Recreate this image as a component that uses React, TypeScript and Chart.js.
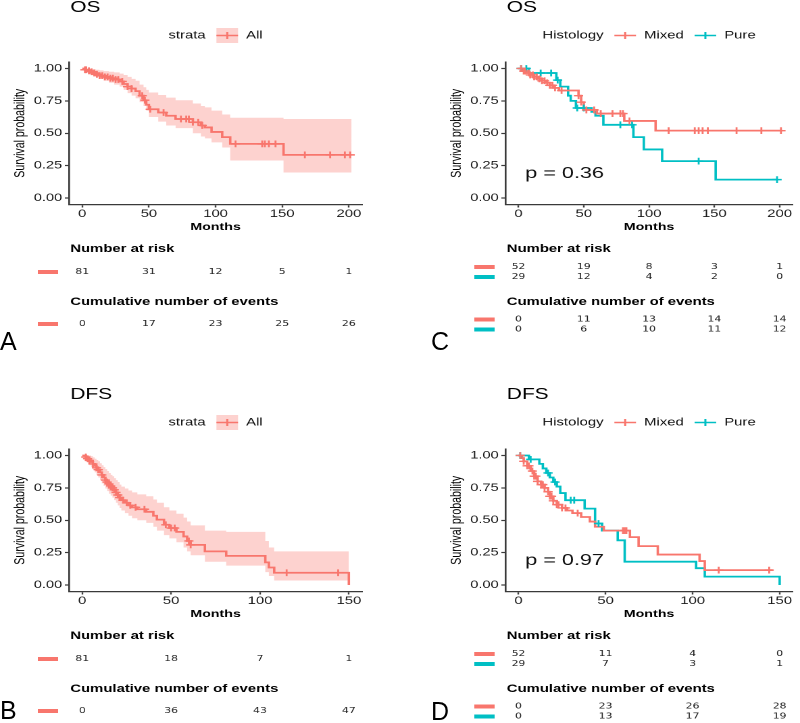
import React, { useEffect, useRef } from "react";
import { Chart, registerables } from "chart.js";

Chart.register(...registerables);

const FONT = "'Liberation Sans', Arial, Helvetica, sans-serif";
const TABLE_FONT = "'DejaVu Sans', Verdana, sans-serif";
const RED = "#F8766D";
const TEAL = "#00BFC4";
const BAND = "rgba(248,118,109,0.33)";
const W = 296;
const SX = 400 / W;
const Y_AXIS_W = 40;
const X_AXIS_H = 20;

// ---------- axis ticks ----------
const OS_X_TICKS = [0, 50, 100, 150, 200];
const DFS_X_TICKS = [0, 50, 100, 150];
const Y_TICKS = [0, 0.25, 0.5, 0.75, 1];

// ---------- A: OS, all patients ----------
const OS_ALL_T = [0, 2, 4, 6, 8, 10, 13, 16, 20, 24, 28, 31, 34, 37, 40, 43, 46, 48, 50, 57, 63, 70, 83, 89, 92, 97, 105, 111, 151];
const OS_ALL_S = [1, 0.99, 0.982, 0.975, 0.965, 0.955, 0.945, 0.935, 0.925, 0.915, 0.9, 0.88, 0.86, 0.845, 0.825, 0.79, 0.755, 0.72, 0.685, 0.66, 0.635, 0.61, 0.585, 0.56, 0.545, 0.51, 0.47, 0.418, 0.333];
const OS_ALL_UP = [1, 1, 1, 0.998, 0.995, 0.99, 0.985, 0.98, 0.975, 0.97, 0.96, 0.95, 0.935, 0.92, 0.905, 0.875, 0.855, 0.835, 0.815, 0.795, 0.775, 0.755, 0.73, 0.71, 0.7, 0.675, 0.645, 0.62, 0.61];
const OS_ALL_LO = [1, 0.975, 0.965, 0.955, 0.945, 0.935, 0.92, 0.905, 0.89, 0.875, 0.86, 0.835, 0.81, 0.79, 0.77, 0.74, 0.71, 0.675, 0.625, 0.59, 0.56, 0.54, 0.5, 0.475, 0.46, 0.43, 0.39, 0.29, 0.197];
const OS_ALL_END = 202;
const OS_ALL_CENS = [2, 3, 5, 7, 9, 11, 13, 15, 17, 19, 21, 23, 25, 27, 30, 34, 37, 45, 47, 51, 61, 74, 78, 80, 83, 87, 90, 115, 135, 137, 140, 145, 167, 186, 197, 201];
const OS_ALL_RISK = [81, 31, 12, 5, 1];
const OS_ALL_EVENTS = [0, 17, 23, 25, 26];

// ---------- C: OS by histology ----------
const OS_MIX_T = [0, 3, 6, 9, 12, 15, 18, 21, 24, 27, 31, 46, 48, 50, 60, 81, 105];
const OS_MIX_S = [1, 0.98, 0.965, 0.95, 0.935, 0.92, 0.905, 0.89, 0.87, 0.85, 0.83, 0.79, 0.74, 0.68, 0.652, 0.595, 0.52];
const OS_MIX_END = 202;
const OS_MIX_CENS = [2, 4, 5, 8, 9, 11, 12, 14, 16, 18, 20, 22, 24, 26, 28, 33, 46, 48, 52, 58, 63, 72, 78, 80, 85, 115, 135, 138, 141, 145, 167, 186, 201];
const OS_MIX_RISK = [52, 19, 8, 3, 1];
const OS_MIX_EVENTS = [0, 11, 13, 14, 14];

const OS_PURE_T = [0, 8, 29, 32, 38, 40, 44, 56, 59, 65, 88, 96, 110, 151];
const OS_PURE_S = [1, 0.965, 0.91, 0.86, 0.79, 0.75, 0.695, 0.665, 0.635, 0.565, 0.47, 0.375, 0.285, 0.142];
const OS_PURE_END = 198;
const OS_PURE_CENS = [2, 6, 17, 25, 30, 45, 50, 78, 87, 138, 198];
const OS_PURE_RISK = [29, 12, 4, 2, 0];
const OS_PURE_EVENTS = [0, 6, 10, 11, 12];

// ---------- B: DFS, all patients ----------
const DFS_ALL_T = [0, 2, 3, 4, 5, 6, 7, 8, 9, 10, 11, 12, 13, 14, 15, 16, 17, 18, 19, 20, 21, 22, 24, 26, 28, 31, 36, 40, 42, 46, 49, 53, 57, 59, 61, 69, 81, 103, 105, 108, 150];
const DFS_ALL_S = [1, 0.988, 0.975, 0.962, 0.95, 0.935, 0.92, 0.905, 0.89, 0.87, 0.85, 0.83, 0.81, 0.795, 0.78, 0.765, 0.75, 0.735, 0.715, 0.695, 0.675, 0.655, 0.635, 0.615, 0.6, 0.585, 0.565, 0.535, 0.505, 0.465, 0.44, 0.41, 0.375, 0.34, 0.31, 0.26, 0.225, 0.175, 0.135, 0.095, 0];
const DFS_ALL_UP = [1, 1, 1, 1, 0.995, 0.985, 0.975, 0.965, 0.955, 0.94, 0.925, 0.91, 0.895, 0.88, 0.865, 0.85, 0.84, 0.825, 0.81, 0.795, 0.775, 0.76, 0.745, 0.73, 0.715, 0.7, 0.685, 0.66, 0.635, 0.6, 0.575, 0.55, 0.52, 0.49, 0.46, 0.42, 0.41, 0.34, 0.29, 0.26, 0.26];
const DFS_ALL_LO = [1, 0.96, 0.945, 0.925, 0.91, 0.89, 0.87, 0.85, 0.83, 0.81, 0.785, 0.765, 0.745, 0.725, 0.705, 0.69, 0.675, 0.655, 0.635, 0.615, 0.595, 0.575, 0.555, 0.535, 0.515, 0.5, 0.48, 0.45, 0.42, 0.385, 0.36, 0.33, 0.29, 0.26, 0.23, 0.18, 0.15, 0.1, 0.07, 0.035, 0.035];
const DFS_ALL_END = 150;
const DFS_ALL_CENS = [2, 3, 4, 6, 8, 9, 11, 13, 14, 15, 16, 17, 18, 19, 20, 21, 23, 25, 27, 30, 35, 47, 50, 52, 60, 61, 115, 144];
const DFS_ALL_RISK = [81, 18, 7, 1];
const DFS_ALL_EVENTS = [0, 36, 43, 47];

// ---------- D: DFS by histology ----------
const DFS_MIX_T = [0, 2, 3, 5, 7, 9, 11, 13, 15, 17, 18, 20, 22, 25, 28, 31, 36, 41, 44, 49, 64, 69, 80, 104, 107];
const DFS_MIX_S = [1, 0.98, 0.955, 0.92, 0.88, 0.84, 0.8, 0.775, 0.75, 0.72, 0.685, 0.65, 0.62, 0.595, 0.575, 0.555, 0.525, 0.49, 0.45, 0.42, 0.37, 0.3, 0.235, 0.185, 0.115];
const DFS_MIX_END = 146;
const DFS_MIX_CENS = [1, 3, 5, 6, 8, 9, 10, 11, 13, 14, 15, 17, 18, 19, 20, 22, 23, 25, 27, 34, 60, 61, 62, 115, 144];
const DFS_MIX_RISK = [52, 11, 4, 0];
const DFS_MIX_EVENTS = [0, 23, 26, 28];

const DFS_PURE_T = [0, 6, 12, 14, 16, 18, 20, 22, 24, 27, 38, 44, 48, 57, 61, 102, 107, 150];
const DFS_PURE_S = [1, 0.97, 0.935, 0.9, 0.865, 0.83, 0.795, 0.76, 0.71, 0.655, 0.59, 0.475, 0.42, 0.345, 0.18, 0.13, 0.065, 0];
const DFS_PURE_END = 150;
const DFS_PURE_CENS = [1, 7, 17, 21, 30, 32, 46];
const DFS_PURE_RISK = [29, 7, 3, 1];
const DFS_PURE_EVENTS = [0, 13, 17, 19];

type Series = {
  label: string;
  color: string;
  t: number[];
  s: number[];
  up?: number[];
  lo?: number[];
  end: number;
  cens: number[];
  risk: number[];
  events: number[];
};

type PanelCfg = {
  title: string;
  legendTitle: string;
  series: Series[];
  xMax: number;
  xTicks: number[];
  band: boolean;
  pval?: string;
  left: number;
  right: number;
  height: number;
};

const PANEL_A: PanelCfg = {
  title: "OS",
  legendTitle: "strata",
  series: [
    { label: "All", color: RED, t: OS_ALL_T, s: OS_ALL_S, up: OS_ALL_UP, lo: OS_ALL_LO, end: OS_ALL_END, cens: OS_ALL_CENS, risk: OS_ALL_RISK, events: OS_ALL_EVENTS },
  ],
  xMax: 200,
  xTicks: OS_X_TICKS,
  band: true,
  left: 51,
  right: 268,
  height: 387,
};

const PANEL_C: PanelCfg = {
  title: "OS",
  legendTitle: "Histology",
  series: [
    { label: "Mixed", color: RED, t: OS_MIX_T, s: OS_MIX_S, end: OS_MIX_END, cens: OS_MIX_CENS, risk: OS_MIX_RISK, events: OS_MIX_EVENTS },
    { label: "Pure", color: TEAL, t: OS_PURE_T, s: OS_PURE_S, end: OS_PURE_END, cens: OS_PURE_CENS, risk: OS_PURE_RISK, events: OS_PURE_EVENTS },
  ],
  xMax: 200,
  xTicks: OS_X_TICKS,
  band: false,
  pval: "p = 0.36",
  left: 78,
  right: 296,
  height: 387,
};

const PANEL_B: PanelCfg = {
  title: "DFS",
  legendTitle: "strata",
  series: [
    { label: "All", color: RED, t: DFS_ALL_T, s: DFS_ALL_S, up: DFS_ALL_UP, lo: DFS_ALL_LO, end: DFS_ALL_END, cens: DFS_ALL_CENS, risk: DFS_ALL_RISK, events: DFS_ALL_EVENTS },
  ],
  xMax: 150,
  xTicks: DFS_X_TICKS,
  band: true,
  left: 51,
  right: 268,
  height: 336,
};

const PANEL_D: PanelCfg = {
  title: "DFS",
  legendTitle: "Histology",
  series: [
    { label: "Mixed", color: RED, t: DFS_MIX_T, s: DFS_MIX_S, end: DFS_MIX_END, cens: DFS_MIX_CENS, risk: DFS_MIX_RISK, events: DFS_MIX_EVENTS },
    { label: "Pure", color: TEAL, t: DFS_PURE_T, s: DFS_PURE_S, end: DFS_PURE_END, cens: DFS_PURE_CENS, risk: DFS_PURE_RISK, events: DFS_PURE_EVENTS },
  ],
  xMax: 150,
  xTicks: DFS_X_TICKS,
  band: false,
  pval: "p = 0.97",
  left: 78,
  right: 296,
  height: 336,
};

function stepPoints(t: number[], v: number[], end: number) {
  const pts = t.map((tt, i) => ({ x: tt, y: v[i] }));
  pts.push({ x: end, y: v[v.length - 1] });
  return pts;
}

function survAt(t: number[], s: number[], c: number) {
  let v = s[0];
  for (let i = 0; i < t.length; i++) if (t[i] <= c) v = s[i];
  return v;
}

function makeDecor(cfg: PanelCfg) {
  return {
    id: "kmDecor",
    afterDraw(chart: any) {
      const ctx = chart.ctx as CanvasRenderingContext2D;
      const ca = chart.chartArea;
      const xs = chart.scales.x;
      const ys = chart.scales.y;
      const cx = (ca.left + ca.right) / 2;
      ctx.save();
      ctx.textBaseline = "middle";

      // title
      ctx.fillStyle = "#000";
      ctx.font = `15.5px ${FONT}`;
      ctx.textAlign = "left";
      ctx.fillText(cfg.title, ca.left + 1, 7.5);

      // legend
      ctx.font = `11px ${FONT}`;
      const KEY = 16, G1 = 8, G2 = 6;
      let total = ctx.measureText(cfg.legendTitle).width;
      cfg.series.forEach((se) => {
        total += G1 + KEY + G2 + ctx.measureText(se.label).width;
      });
      let lx = cx - total / 2;
      const ly = 35.5;
      ctx.fillStyle = "#111";
      ctx.fillText(cfg.legendTitle, lx, ly);
      lx += ctx.measureText(cfg.legendTitle).width;
      cfg.series.forEach((se) => {
        lx += G1;
        if (cfg.band) {
          ctx.fillStyle = BAND;
          ctx.fillRect(lx, ly - 7.5, KEY, 15);
        }
        ctx.strokeStyle = se.color;
        ctx.lineWidth = 1.5;
        ctx.beginPath();
        ctx.moveTo(lx, ly);
        ctx.lineTo(lx + KEY, ly);
        ctx.moveTo(lx + KEY / 2, ly - 3.5);
        ctx.lineTo(lx + KEY / 2, ly + 3.5);
        ctx.stroke();
        lx += KEY + G2;
        ctx.fillStyle = "#111";
        ctx.fillText(se.label, lx, ly);
        lx += ctx.measureText(se.label).width;
      });

      // y axis title
      ctx.save();
      ctx.translate(ca.left - 36, (ca.top + ca.bottom) / 2);
      ctx.rotate(-Math.PI / 2);
      ctx.font = `10.6px ${FONT}`;
      ctx.textAlign = "center";
      ctx.fillStyle = "#000";
      ctx.fillText("Survival probability", 0, 0);
      ctx.restore();

      // x axis title
      ctx.font = `bold 10.5px ${FONT}`;
      ctx.textAlign = "center";
      ctx.fillStyle = "#000";
      ctx.fillText("Months", cx, 227);

      // p-value
      if (cfg.pval) {
        ctx.font = `16px ${FONT}`;
        ctx.textAlign = "left";
        ctx.fillStyle = "#111";
        ctx.fillText(cfg.pval, xs.getPixelForValue(0) + 5, ys.getPixelForValue(0.19));
      }

      // risk tables
      const two = cfg.series.length > 1;
      const riskRows = two ? [267, 277] : [272];
      const evRows = two ? [319.5, 329.5] : [324];
      ctx.font = `bold 11px ${FONT}`;
      ctx.fillStyle = "#000";
      ctx.textAlign = "left";
      ctx.fillText("Number at risk", ca.left + 1, 249);
      ctx.fillText("Cumulative number of events", ca.left + 1, 302);
      const drawRows = (rows: number[], key: "risk" | "events") => {
        cfg.series.forEach((se, i) => {
          const ry = rows[i];
          ctx.fillStyle = se.color;
          ctx.fillRect(ca.left - 23, ry - 2, 15, 4);
          ctx.fillStyle = "#222";
          ctx.font = `8px ${TABLE_FONT}`;
          ctx.textAlign = "center";
          se[key].forEach((v, j) => {
            ctx.fillText(String(v), xs.getPixelForValue(cfg.xTicks[j]), ry);
          });
        });
      };
      drawRows(riskRows, "risk");
      drawRows(evRows, "events");
      ctx.restore();
    },
  };
}

function buildConfig(cfg: PanelCfg): any {
  const datasets: any[] = [];
  cfg.series.forEach((se) => {
    datasets.push({
      data: se.cens.map((c) => ({ x: c, y: survAt(se.t, se.s, c) })),
      showLine: false,
      pointStyle: "cross",
      pointRadius: 3.4,
      pointBorderColor: se.color,
      pointBackgroundColor: se.color,
      pointBorderWidth: 1.4,
      borderColor: se.color,
      order: 1,
    });
  });
  cfg.series.forEach((se) => {
    datasets.push({
      data: stepPoints(se.t, se.s, se.end),
      borderColor: se.color,
      borderWidth: 1.8,
      stepped: "before",
      pointRadius: 0,
      fill: false,
      order: 2,
    });
  });
  cfg.series.forEach((se) => {
    if (se.up && se.lo) {
      datasets.push({
        data: stepPoints(se.t, se.up, se.end),
        borderColor: "rgba(0,0,0,0)",
        borderWidth: 0,
        stepped: "before",
        pointRadius: 0,
        fill: "+1",
        backgroundColor: BAND,
        order: 3,
      });
      datasets.push({
        data: stepPoints(se.t, se.lo, se.end),
        borderColor: "rgba(0,0,0,0)",
        borderWidth: 0,
        stepped: "before",
        pointRadius: 0,
        fill: false,
        order: 3,
      });
    }
  });

  const axisColor = "#3a3a3a";
  return {
    type: "line",
    data: { datasets },
    plugins: [makeDecor(cfg)],
    options: {
      responsive: false,
      animation: false,
      devicePixelRatio: 2,
      events: [],
      layout: {
        padding: {
          left: cfg.left - Y_AXIS_W,
          right: W - cfg.right,
          top: 62,
          bottom: cfg.height - 204.5 - X_AXIS_H,
        },
      },
      plugins: { legend: { display: false }, tooltip: { enabled: false } },
      elements: { line: { tension: 0 } },
      scales: {
        x: {
          type: "linear",
          min: -cfg.xMax * 0.05,
          max: cfg.xMax * 1.05,
          afterFit: (s: any) => {
            s.height = X_AXIS_H;
          },
          afterBuildTicks: (s: any) => {
            s.ticks = cfg.xTicks.map((v) => ({ value: v }));
          },
          grid: { display: true, drawOnChartArea: false, drawTicks: true, tickLength: 3, tickColor: axisColor, tickWidth: 1.2 },
          border: { display: true, color: axisColor, width: 1.3 },
          ticks: {
            color: "#1a1a1a",
            font: { size: 11, family: FONT },
            padding: 0,
            maxRotation: 0,
            autoSkip: false,
            callback: (v: any) => String(v),
          },
        },
        y: {
          type: "linear",
          min: -0.05,
          max: 1.05,
          afterFit: (s: any) => {
            s.width = Y_AXIS_W;
          },
          afterBuildTicks: (s: any) => {
            s.ticks = Y_TICKS.map((v) => ({ value: v }));
          },
          grid: { display: true, drawOnChartArea: false, drawTicks: true, tickLength: 3, tickColor: axisColor, tickWidth: 1.2 },
          border: { display: true, color: axisColor, width: 1.3 },
          ticks: {
            color: "#1a1a1a",
            font: { size: 10.8, family: FONT },
            padding: 2,
            autoSkip: false,
            callback: (v: any) => Number(v).toFixed(2),
          },
        },
      },
    },
  };
}

function KMPanel({ cfg, x, y }: { cfg: PanelCfg; x: number; y: number }) {
  const ref = useRef<HTMLCanvasElement>(null);
  useEffect(() => {
    const chart = new Chart(ref.current as HTMLCanvasElement, buildConfig(cfg));
    return () => chart.destroy();
  }, [cfg]);
  return (
    <div
      style={{
        position: "absolute",
        left: x,
        top: y,
        width: W,
        height: cfg.height,
        transform: `scaleX(${SX})`,
        transformOrigin: "0 0",
      }}
    >
      <canvas ref={ref} width={W} height={cfg.height} style={{ width: W, height: cfg.height, display: "block" }} />
    </div>
  );
}

const PANEL_LETTERS = [
  { text: "A", x: 0, baseline: 350 },
  { text: "C", x: 431, baseline: 350 },
  { text: "B", x: 0, baseline: 719 },
  { text: "D", x: 431, baseline: 720 },
];

export default function App() {
  return (
    <div
      style={{
        position: "absolute",
        left: 0,
        top: 0,
        width: 800,
        height: 723,
        background: "#fff",
        overflow: "hidden",
      }}
    >
      <KMPanel cfg={PANEL_A} x={0} y={0} />
      <KMPanel cfg={PANEL_C} x={400} y={0} />
      <KMPanel cfg={PANEL_B} x={0} y={387} />
      <KMPanel cfg={PANEL_D} x={400} y={387} />
      {PANEL_LETTERS.map((l) => (
        <div
          key={l.text}
          style={{
            position: "absolute",
            left: l.x,
            top: l.baseline - 21,
            fontFamily: FONT,
            fontSize: 25,
            lineHeight: "25px",
            color: "#000",
          }}
        >
          {l.text}
        </div>
      ))}
    </div>
  );
}
